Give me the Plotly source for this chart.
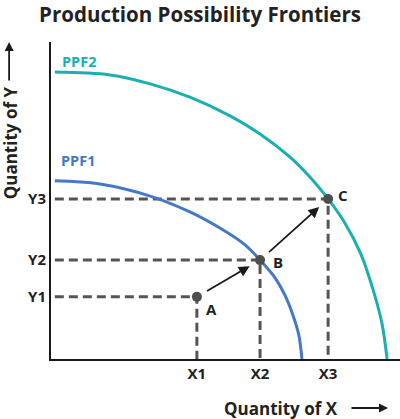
import plotly.graph_objects as go

# ---- data ----
ppf1_x = [0.11, 1.40, 2.84, 3.98, 4.84, 5.56, 5.99, 6.42, 6.70, 6.93, 7.10, 7.19]
ppf1_y = [5.62, 5.52, 5.14, 4.64, 4.13, 3.60, 3.12, 2.56, 2.02, 1.39, 0.76, 0.00]
ppf2_x = [0.11, 1.69, 2.84, 3.98, 5.13, 5.99, 6.85, 7.42, 7.94, 8.42, 8.88, 9.23, 9.48, 9.63]
ppf2_y = [9.05, 8.96, 8.68, 8.26, 7.67, 7.10, 6.37, 5.74, 5.05, 4.29, 3.31, 2.18, 1.14, 0.00]
point_names = ["A", "B", "C"]
point_x = [4.18, 5.99, 7.94]
point_y = [1.96, 3.12, 5.05]
x_tick_labels = ["X1", "X2", "X3"]
y_tick_labels = ["Y1", "Y2", "Y3"]
guide_start = 0.11

FONT = "Open Sans"
TEAL = "#1AAFB1"
BLUE = "#4579C5"
GUIDE = "#555555"
DARK = "#222222"

fig = go.Figure()

# dashed guide lines
for px_, py_ in zip(point_x, point_y):
    fig.add_trace(go.Scatter(
        x=[guide_start, px_, px_], y=[py_, py_, 0],
        mode="lines", line=dict(color=GUIDE, width=3, dash="9px,5px"),
        hoverinfo="skip", showlegend=False))

# frontiers
fig.add_trace(go.Scatter(x=ppf1_x, y=ppf1_y, mode="lines",
                         line=dict(color=BLUE, width=3, shape="spline"),
                         showlegend=False))
fig.add_trace(go.Scatter(x=ppf2_x, y=ppf2_y, mode="lines",
                         line=dict(color=TEAL, width=3, shape="spline"),
                         showlegend=False))

# points
fig.add_trace(go.Scatter(x=point_x, y=point_y, mode="markers",
                         marker=dict(color="#4d4d4d", size=10),
                         showlegend=False))

annotations = []
# arrows between points
for i in range(len(point_x) - 1):
    annotations.append(dict(
        x=point_x[i + 1], y=point_y[i + 1], ax=point_x[i], ay=point_y[i],
        xref="x", yref="y", axref="x", ayref="y", text="",
        showarrow=True, arrowhead=2, arrowsize=1.2, arrowwidth=1.8,
        arrowcolor="#1a1a1a", standoff=12, startstandoff=10))

# point labels
label_shift = {"A": (15, -12), "B": (18, -2), "C": (15, 4)}
for n, px_, py_ in zip(point_names, point_x, point_y):
    dx, dy = label_shift[n]
    annotations.append(dict(x=px_, y=py_, xref="x", yref="y", text="<b>%s</b>" % n,
                            showarrow=False, xshift=dx, yshift=dy,
                            font=dict(family=FONT, size=15, color=DARK)))

# curve labels
annotations.append(dict(x=ppf2_x[0], y=ppf2_y[0], xref="x", yref="y", text="<b>PPF2</b>",
                        showarrow=False, xanchor="left", xshift=5, yshift=11,
                        font=dict(family=FONT, size=14.5, color=TEAL)))
annotations.append(dict(x=ppf1_x[0], y=ppf1_y[0], xref="x", yref="y", text="<b>PPF1</b>",
                        showarrow=False, xanchor="left", xshift=4, yshift=20,
                        font=dict(family=FONT, size=14.5, color=BLUE)))

# axis titles with arrows
annotations.append(dict(x=0.659, y=-0.1546, xref="paper", yref="paper",
                        xanchor="center", yanchor="middle",
                        text="<b>Quantity of X</b>", showarrow=False,
                        font=dict(family=FONT, size=17, color=DARK)))
annotations.append(dict(x=0.9656, y=-0.1546, xref="paper", yref="paper", text="",
                        ax=-38, ay=0, showarrow=True, arrowhead=2, arrowsize=1,
                        arrowwidth=1.8, arrowcolor="#1a1a1a"))
annotations.append(dict(x=-0.117, y=0.681, xref="paper", yref="paper",
                        xanchor="center", yanchor="middle",
                        text="<b>Quantity of Y</b>", showarrow=False, textangle=-90,
                        font=dict(family=FONT, size=17, color=DARK)))
annotations.append(dict(x=-0.12, y=1.0, xref="paper", yref="paper", text="",
                        ax=0, ay=40, showarrow=True, arrowhead=2, arrowsize=1,
                        arrowwidth=1.8, arrowcolor="#1a1a1a"))

fig.update_layout(
    width=400, height=419,
    margin=dict(l=51, r=0, t=42, b=60),
    paper_bgcolor="white", plot_bgcolor="white",
    title=dict(text="<b>Production Possibility Frontiers</b>", x=0.5, xanchor="center",
               y=0.965, yanchor="middle",
               font=dict(family=FONT, size=20.5, color=DARK)),
    annotations=annotations,
    xaxis=dict(range=[0, 10], showgrid=False, zeroline=False, showline=True,
               linecolor="#1a1a1a", linewidth=2, ticks="",
               tickvals=point_x, ticktext=["<b>%s</b>" % t for t in x_tick_labels],
               tickfont=dict(family=FONT, size=15, color=DARK)),
    yaxis=dict(range=[0, 10], showgrid=False, zeroline=False, showline=True,
               linecolor="#1a1a1a", linewidth=2, ticks="",
               tickvals=point_y, ticktext=["<b>%s</b>" % t for t in y_tick_labels],
               tickfont=dict(family=FONT, size=15, color=DARK)),
)

fig.write_html("out.html", config={"displayModeBar": False},
               post_script="document.body.style.margin='0';")
